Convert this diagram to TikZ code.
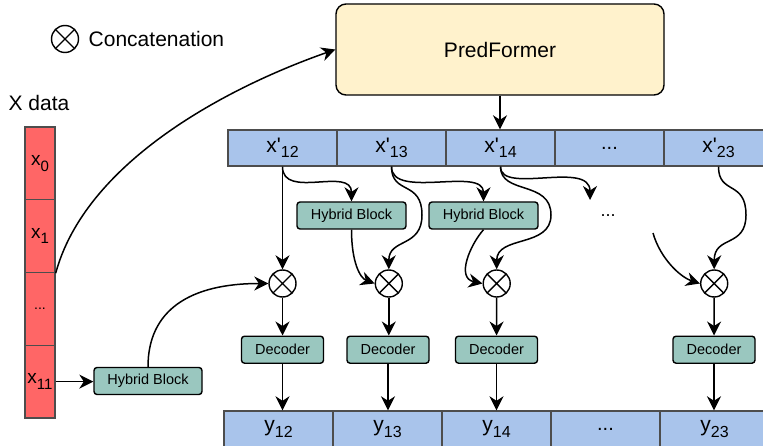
\documentclass[tikz,border=0pt]{standalone}
\usepackage{fontspec}
\setmainfont{Liberation Sans}
\usetikzlibrary{arrows.meta,positioning}
\definecolor{xred}{HTML}{FF6666}
\definecolor{xblue}{HTML}{A9C4EB}
\definecolor{xteal}{HTML}{9AC7BF}
\definecolor{xyellow}{HTML}{FFF2CC}
\definecolor{cellgray}{HTML}{4D4D4D}
\newcommand{\lowidx}[2][15]{\raisebox{-5.5pt}{\fontsize{#1}{#1}\selectfont #2}}

\begin{document}
\begin{tikzpicture}[x=1pt,y=-1pt,
  big/.style={font=\fontsize{21}{25}\selectfont},
  xcell/.style={draw=cellgray,fill=xred,line width=1.4pt,minimum width=30pt,minimum height=72.75pt,inner sep=0pt,font=\fontsize{19}{19}\selectfont},
  pcell/.style={draw=cellgray,fill=xblue,line width=1.4pt,minimum width=109pt,minimum height=36pt,inner sep=0pt,font=\fontsize{21}{21}\selectfont},
  block/.style={draw=black,fill=xteal,line width=1.4pt,rounded corners=3pt,minimum height=27pt,inner sep=0pt,font=\fontsize{14.5}{14.5}\selectfont},
  concat/.style={circle,draw=black,fill=white,line width=1.4pt,minimum size=27pt,inner sep=0pt,
    path picture={\draw[line width=1.4pt] (path picture bounding box.north west) -- (path picture bounding box.south east)
      (path picture bounding box.north east) -- (path picture bounding box.south west);}},
  arr/.style={-{Stealth[length=14pt,width=14pt,inset=4.5pt]},line width=1.5pt}]
\useasboundingbox (0,0) rectangle (763,446);

\node[concat] (legend) at (65,39) {};
\node[big,right=6pt of legend] (legendtxt) {Concatenation};
\node[big] (xdata) at (39,103) {X data};

\node[xcell] (x0) at (40,163.4) {x\lowidx{0}};
\node[xcell] (x1) at (40,236.1) {x\lowidx{1}};
\node[xcell,font=\fontsize{14}{14}\selectfont] (xdots) at (40,308.9) {...};
\node[xcell] (x11) at (40,381.6) {x\lowidx{11}};

\node[draw=black,fill=xyellow,line width=1.4pt,rounded corners=10pt,minimum width=328pt,minimum height=91pt,big] (pred) at (500,49.5) {PredFormer};

\node[pcell] (p12) at (282.5,148) {x\textquotesingle\lowidx[16]{12}};
\node[pcell] (p13) at (391.5,148) {x\textquotesingle\lowidx[16]{13}};
\node[pcell] (p14) at (500.5,148) {x\textquotesingle\lowidx[16]{14}};
\node[pcell,font=\fontsize{20}{20}\selectfont] (pdots) at (609.5,148) {...};
\node[pcell] (p23) at (718.5,148) {x\textquotesingle\lowidx[16]{23}};

\node[block,minimum width=109pt] (hb1) at (351.5,215.5) {Hybrid Block};
\node[block,minimum width=109pt] (hb2) at (483.5,215.5) {Hybrid Block};
\node[font=\fontsize{18}{18}\selectfont] (hbdots) at (608,216) {...};
\node[block,minimum width=108pt] (hbx) at (148,381) {Hybrid Block};
\coordinate (hbend) at (590,200);
\coordinate (hbstart) at (653,233);

\node[concat] (c1) at (282.5,283.5) {};
\node[concat] (c2) at (388.8,283.5) {};
\node[concat] (c3) at (496.7,283.5) {};
\node[concat] (c4) at (714.2,283.5) {};

\node[block,minimum width=82pt] (dec1) at (282.5,349.7) {Decoder};
\node[block,minimum width=82pt] (dec2) at (388,349.7) {Decoder};
\node[block,minimum width=82pt] (dec3) at (496.5,349.7) {Decoder};
\node[block,minimum width=82pt] (dec4) at (714,349.7) {Decoder};

\node[pcell] (y12) at (278.5,429) {y\lowidx[16]{12}};
\node[pcell] (y13) at (387.5,429) {y\lowidx[16]{13}};
\node[pcell] (y14) at (496.5,429) {y\lowidx[16]{14}};
\node[pcell,font=\fontsize{20}{20}\selectfont] (ydots) at (605.5,429) {...};
\node[pcell] (y23) at (714.5,429) {y\lowidx[16]{23}};

\draw[arr] (x1.south east) .. controls (85,165) and (220,90) .. (pred.west);
\draw[arr] (pred.south) -- (pred.south |- p14.north);
\draw[arr] (x11.east) -- (x11.east -| hbx.west);
\draw[arr] (hbx.north) .. controls (148,310) and (190,283.5) .. (c1.west);

\draw[arr] (p12.south) -- (c1.north);
\draw[arr] (p12.south) .. controls (282.5,200) and (351.5,166) .. (hb1.north);
\draw[arr] (hb1.south) .. controls (351.5,262) and (360,278) .. (c2.west);
\draw[arr] (p13.south) .. controls (391.5,195) and (422,180) .. (422,215) .. controls (422,248) and (388.8,238) .. (c2.north);
\draw[arr] (p13.south) .. controls (391.5,200) and (483.5,166) .. (hb2.north);
\draw[arr] (hb2.south) .. controls (470,245) and (456,278) .. (c3.west);
\draw[arr] (p14.south) .. controls (500.5,195) and (551,180) .. (551,215) .. controls (551,248) and (496.7,235) .. (c3.north);
\draw[arr] (p14.south) .. controls (500.5,195) and (590,160) .. (hbend);
\draw[arr] (hbstart) .. controls (660,258) and (680,277) .. (c4.west);
\draw[arr] (p23.south) .. controls (718.5,195) and (746,180) .. (746,215) .. controls (746,248) and (714.2,235) .. (c4.north);

\draw[arr] (c1.south) -- (dec1.north);
\draw[arr] (c2.south) -- (c2.south |- dec2.north);
\draw[arr] (c3.south) -- (dec3.north);
\draw[arr] (c4.south) -- (dec4.north);
\draw[arr] (dec1.south) -- (dec1.south |- y12.north);
\draw[arr] (dec2.south) -- (dec2.south |- y13.north);
\draw[arr] (dec3.south) -- (dec3.south |- y14.north);
\draw[arr] (dec4.south) -- (dec4.south |- y23.north);
\end{tikzpicture}
\end{document}
